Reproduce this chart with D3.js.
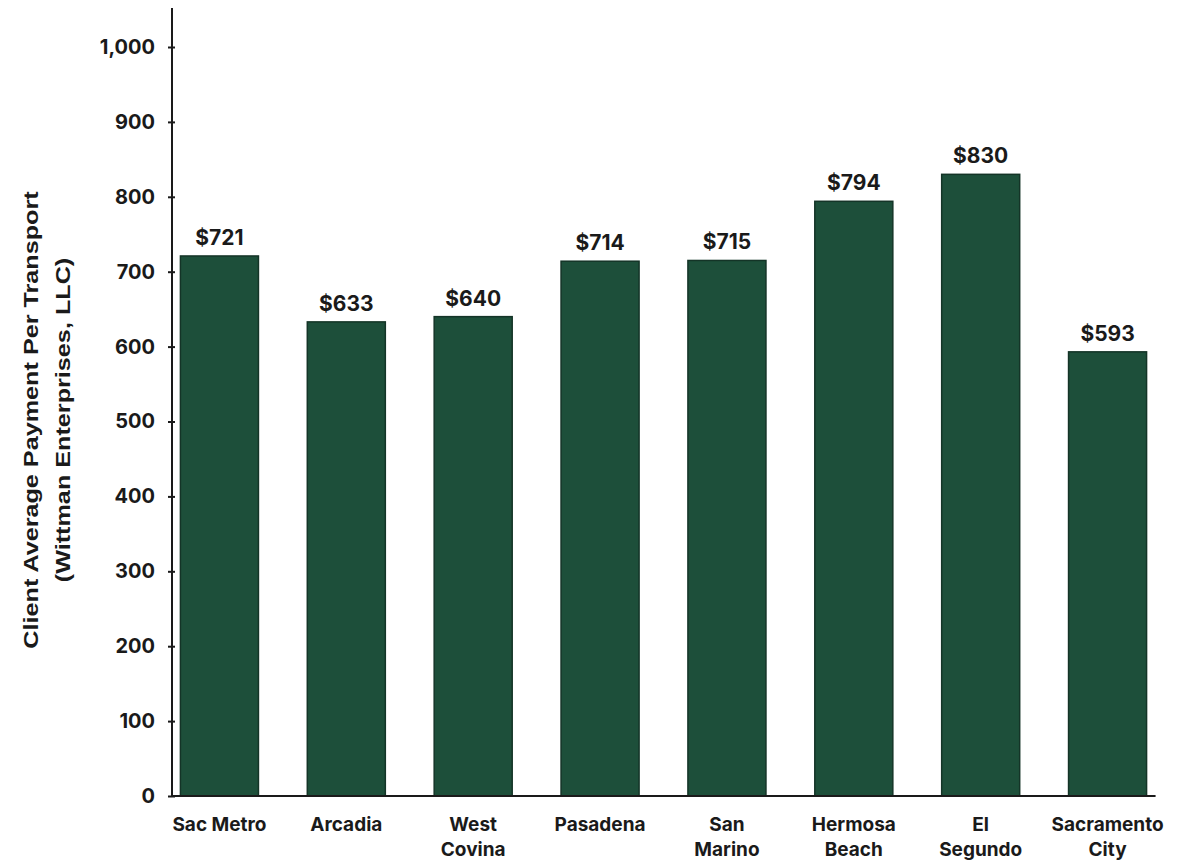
<!DOCTYPE html>
<html>
<head>
<meta charset="utf-8">
<script src="https://cdn.jsdelivr.net/npm/d3@7"></script>
<style>
  body { margin: 0; background: #fff; }
  #chart { width: 1187px; height: 865px; }
  .tick text { font-family: Inter, "DejaVu Sans", sans-serif; font-weight: 700; }
</style>
</head>
<body>
<div id="chart"></div>
<script>
"use strict";

const cities = [["Sac Metro"], ["Arcadia"], ["West", "Covina"], ["Pasadena"], ["San", "Marino"], ["Hermosa", "Beach"], ["El", "Segundo"], ["Sacramento", "City"]];
const payments = [721, 633, 640, 714, 715, 794, 830, 593];
const yTicks = [0, 100, 200, 300, 400, 500, 600, 700, 800, 900, 1000];
const yTitle = ["Client Average Payment Per Transport", "(Wittman Enterprises, LLC)"];

const W = 1187;
const H = 865;
const axisX = 172;
const baseY = 796;

const data = cities.map((c, i) => ({ key: c.join(" "), lines: c, value: payments[i] }));

const svg = d3.select("#chart")
  .append("svg")
  .attr("width", W)
  .attr("height", H);

const xScale = d3.scaleBand()
  .domain(data.map(d => d.key))
  .range([156, 1171])
  .paddingInner(0.385)
  .paddingOuter(0.1925);

const yScale = d3.scaleLinear()
  .domain([0, 1000])
  .range([baseY, 47]);

// bars
svg.selectAll("rect.bar")
  .data(data)
  .enter()
  .append("rect")
  .attr("class", "bar")
  .attr("x", d => xScale(d.key))
  .attr("width", xScale.bandwidth())
  .attr("y", d => yScale(d.value))
  .attr("height", d => baseY - yScale(d.value))
  .attr("fill", "#1d4f3a")
  .attr("stroke", "#143427")
  .attr("stroke-width", 1.5);

// value labels
svg.selectAll("text.val")
  .data(data)
  .enter()
  .append("text")
  .attr("class", "val")
  .attr("x", d => xScale(d.key) + xScale.bandwidth() / 2)
  .attr("y", d => yScale(d.value) - 11)
  .attr("text-anchor", "middle")
  .attr("font-family", "Inter, sans-serif")
  .attr("font-weight", 700)
  .attr("font-size", 21)
  .attr("fill", "#1a1a1a")
  .text(d => "$" + d.value);

// baseline
svg.append("line")
  .attr("x1", axisX)
  .attr("x2", xScale(data[data.length - 1].key) + xScale.bandwidth() + 9)
  .attr("y1", baseY)
  .attr("y2", baseY)
  .attr("stroke", "#1a1a1a")
  .attr("stroke-width", 2);

// y axis
const yAxis = svg.append("g")
  .attr("transform", `translate(${axisX},0)`)
  .call(d3.axisLeft(yScale).tickValues(yTicks).tickFormat(d3.format(",")).tickSize(4).tickPadding(13));

yAxis.select(".domain").remove();
yAxis.append("line")
  .attr("x1", 0).attr("x2", 0)
  .attr("y1", 8).attr("y2", baseY)
  .attr("stroke", "#1a1a1a")
  .attr("stroke-width", 2);
yAxis.selectAll(".tick line")
  .attr("x1", -4).attr("x2", 3)
  .attr("stroke", "#1a1a1a")
  .attr("stroke-width", 2);
yAxis.selectAll(".tick text")
  .attr("font-size", 20)
  .attr("fill", "#1a1a1a");

// x category labels
const xl = svg.selectAll("text.cat")
  .data(data)
  .enter()
  .append("text")
  .attr("class", "cat")
  .attr("text-anchor", "middle")
  .attr("font-family", "Inter, sans-serif")
  .attr("font-weight", 700)
  .attr("font-size", 19)
  .attr("fill", "#1a1a1a");

xl.selectAll("tspan")
  .data(d => d.lines.map(l => ({ l, x: xScale(d.key) + xScale.bandwidth() / 2 })))
  .enter()
  .append("tspan")
  .attr("x", t => t.x)
  .attr("y", (t, i) => 831 + i * 25)
  .text(t => t.l);

// y title
svg.append("text")
  .attr("transform", "translate(0,420) rotate(-90) scale(1.2,1)")
  .attr("text-anchor", "middle")
  .attr("font-family", "'Liberation Sans', Arial, sans-serif")
  .attr("font-weight", 700)
  .attr("font-size", 21)
  .attr("fill", "#1a1a1a")
  .selectAll("tspan")
  .data(yTitle)
  .enter()
  .append("tspan")
  .attr("x", 0)
  .attr("y", (d, i) => 38 + i * 32)
  .text(d => d);
</script>
</body>
</html>
